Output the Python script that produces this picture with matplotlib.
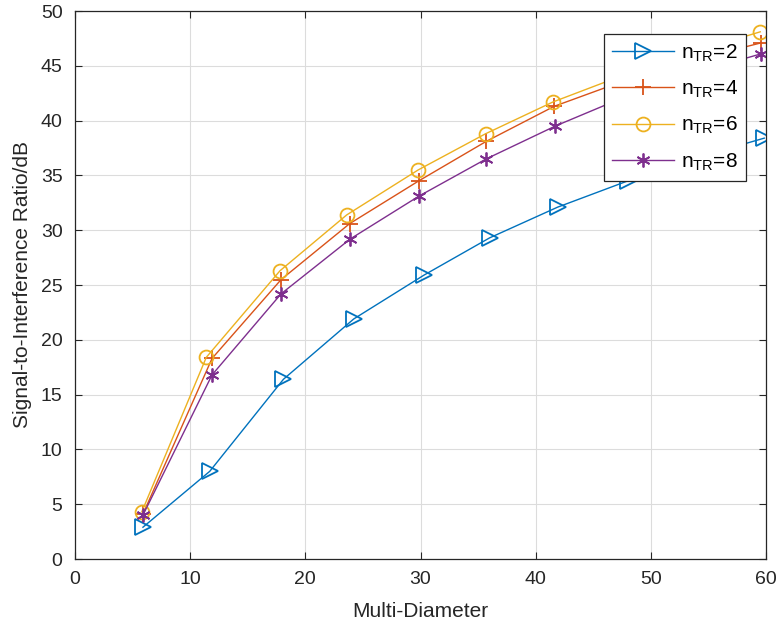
import matplotlib
matplotlib.use("Agg")
import matplotlib.pyplot as plt

plt.rcParams["font.family"] = ["Liberation Sans", "DejaVu Sans"]

# values
x_tr2 = [5.9, 11.7, 18.1, 24.2, 30.3, 36.0, 41.9, 48.0, 53.9, 59.85]
y_tr2 = [2.9, 8.0, 16.4, 21.9, 25.9, 29.3, 32.1, 34.5, 36.6, 38.4]
x_tr4 = [5.9, 11.9, 17.9, 23.85, 29.85, 35.7, 41.6, 47.6, 53.6, 59.6]
y_tr4 = [4.1, 18.3, 25.5, 30.6, 34.5, 38.1, 41.3, 43.6, 45.5, 47.1]
x_tr6 = [5.8, 11.4, 17.8, 23.6, 29.8, 35.65, 41.5, 47.5, 53.5, 59.5]
y_tr6 = [4.3, 18.4, 26.3, 31.4, 35.5, 38.8, 41.7, 44.1, 46.2, 48.1]
x_tr8 = [5.9, 11.9, 17.9, 23.9, 29.85, 35.7, 41.7, 47.6, 53.6, 59.6]
y_tr8 = [4.0, 16.8, 24.2, 29.2, 33.1, 36.5, 39.5, 42.1, 44.3, 46.1]

fig = plt.figure(figsize=(7.78, 6.3), dpi=100)
ax = fig.add_axes([75 / 778, 1 - 559 / 630, 691 / 778, 548 / 630])

ax.plot(x_tr2, y_tr2, color="#0072BD", marker=">", markersize=11, markerfacecolor="none",
        markeredgewidth=1.3, linewidth=1.0, label=r"$\mathregular{n_{TR}}$=2")
ax.plot(x_tr4, y_tr4, color="#D95319", marker="+", markersize=11, markeredgewidth=1.3,
        linewidth=1.0, label=r"$\mathregular{n_{TR}}$=4")
ax.plot(x_tr6, y_tr6, color="#EDB120", marker="o", markersize=10, markerfacecolor="none",
        markeredgewidth=1.3, linewidth=1.0, label=r"$\mathregular{n_{TR}}$=6")
ax.plot(x_tr8, y_tr8, color="#7E2F8E", marker=(6, 2, 0), markersize=10, markeredgewidth=1.3,
        linewidth=1.0, label=r"$\mathregular{n_{TR}}$=8")

ax.set_xlim(0, 60)
ax.set_ylim(0, 50)
ax.set_xticks(range(0, 61, 10))
ax.set_yticks(range(0, 51, 5))
ax.grid(True, color="#dcdcdc", linewidth=0.8)
ax.set_axisbelow(True)
ax.tick_params(direction="in", top=True, right=True, labelsize=14, colors="#262626",
               length=5, pad=9)
for s in ax.spines.values():
    s.set_color("#262626")
    s.set_linewidth(0.9)

ax.set_xlabel("Multi-Diameter", fontsize=15, color="#262626", labelpad=10)
ax.set_ylabel("Signal-to-Interference Ratio/dB", fontsize=15, color="#262626", labelpad=6)

leg = ax.legend(loc="upper right", bbox_to_anchor=(0.971, 0.958), borderaxespad=0,
                fontsize=15, fancybox=False, edgecolor="#262626", framealpha=1,
                handlelength=3.0, labelspacing=0.72, borderpad=0.4, handletextpad=0.3)
leg.get_frame().set_linewidth(0.9)

fig.savefig("out.png", dpi=100)
